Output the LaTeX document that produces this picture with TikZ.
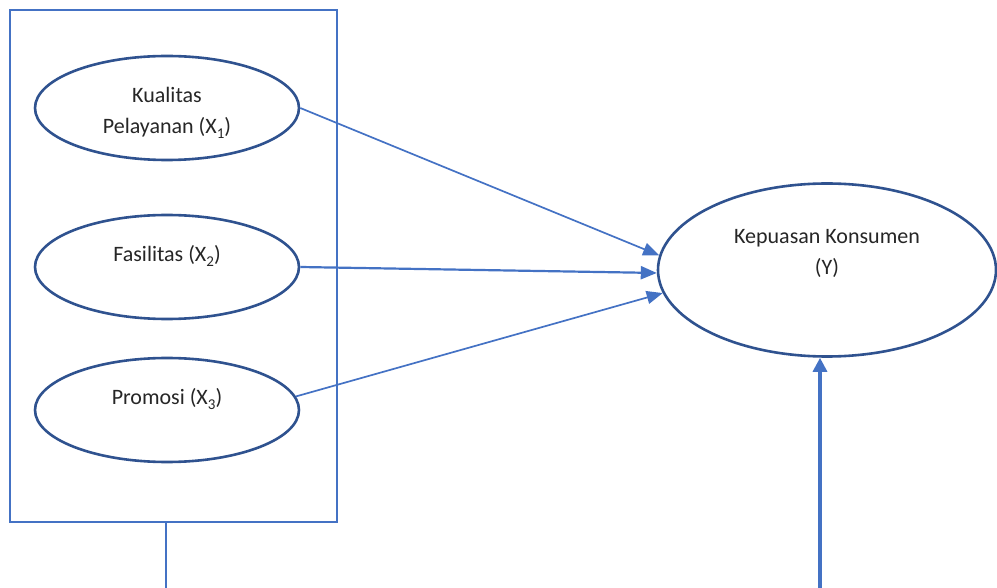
\documentclass[tikz,border=0pt]{standalone}
\usepackage{fontspec}
\setmainfont{Carlito}
\usetikzlibrary{arrows.meta,shapes.geometric,calc}
\definecolor{lineblue}{HTML}{4472C4}
\definecolor{ovalblue}{HTML}{2F528F}
\definecolor{txt}{HTML}{262626}
\newcommand\sbs[1]{\raisebox{-0.2em}{\fontsize{15}{15}\selectfont #1}}
\tikzset{
  oval/.style={ellipse,draw=ovalblue,line width=2.6pt,inner sep=0pt,fill=white},
  smalloval/.style={oval,minimum width=264pt,minimum height=104pt},
  ovaltext/.style={text=txt,align=center,font=\fontsize{22}{31}\selectfont,inner sep=0pt},
  conn/.style={draw=lineblue,line width=1.7pt,-{Triangle[length=16pt,width=13pt]}},
  frame/.style={draw=lineblue,line width=1.2pt}
}
\begin{document}
\begin{tikzpicture}[x=1pt,y=-1pt]
\useasboundingbox (0,0) rectangle (997,588);
% frame around independent variables
\draw[frame] (10,10) rectangle (337,522);
\coordinate (fb) at (166,522);
\coordinate (fe) at (166,588);
\draw[frame] (fb) -- (fe);
% ovals
\node[smalloval] (k) at (167,108) {};
\node[smalloval] (f) at (167,267) {};
\node[smalloval] (p) at (167,410) {};
\node[oval,minimum width=338pt,minimum height=173pt] (y) at (827,270) {};
% texts
\node[ovaltext] (kt) at (167,113) {Kualitas\\Pelayanan (X\sbs{1})};
\node[ovaltext] (ft) at (167,256) {Fasilitas (X\sbs{2})};
\node[ovaltext] (pt) at (167,399) {Promosi (X\sbs{3})};
\node[ovaltext] (yt) at (827,253) {Kepuasan Konsumen\\(Y)};
% connectors
\draw[conn] (k.east) -- (y.175.5);
\draw[conn,line width=2.2pt] (f.east) -- (y.181.7);
\draw[conn] (p.6) -- (y.188.4);
\coordinate (b) at (820,588);
\draw[conn,line width=3.2pt,-{Triangle[length=14pt,width=14pt]}] (b) -- (b |- y.south);
\end{tikzpicture}
\end{document}
